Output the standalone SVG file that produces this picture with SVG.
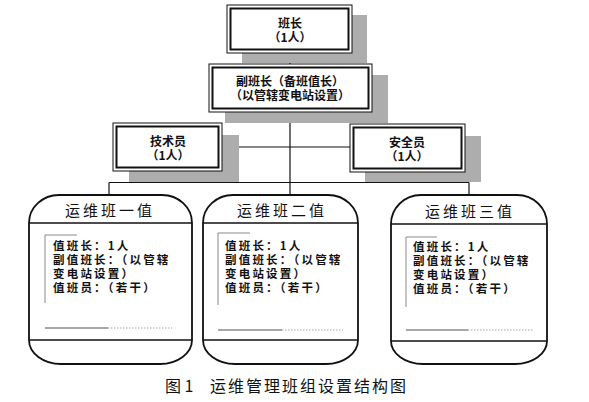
<svg xmlns="http://www.w3.org/2000/svg" width="589" height="402" viewBox="0 0 589 402">
<style>
.shadow{fill:#adadad;stroke:none}
.outer{fill:#fff;stroke:#111;stroke-width:1}
.inner{fill:none;stroke:#111;stroke-width:2}
.line{stroke:#111;stroke-width:1.2;fill:none}
.cap{fill:#fff;stroke:#111;stroke-width:1.8}
.sep{stroke:#111;stroke-width:1.6}
.bracket{stroke:#8a8a8a;stroke-width:1;fill:none}
.solid{stroke:#a8a8a8;stroke-width:2}
.dots{stroke:#c4c4c4;stroke-width:1.5;stroke-dasharray:1.5 1.5}
.bt{font-family:"Noto Sans CJK SC","Noto Sans",sans-serif;font-weight:bold;font-size:12px;fill:#111;text-anchor:middle}
.tt{font-family:"Noto Sans CJK SC","Noto Sans",sans-serif;font-size:15px;fill:#111;text-anchor:middle;letter-spacing:3px}
.body{font-family:"Noto Sans CJK SC","Noto Sans",sans-serif;font-weight:bold;font-size:11.5px;fill:#111;letter-spacing:2.2px}
.cap-t{font-family:"Noto Sans CJK SC","Noto Sans",sans-serif;font-size:16px;fill:#111}
</style>

<g id="connectors">
<line class="line" x1="290" y1="53" x2="290" y2="64"/>
<line class="line" x1="290" y1="112" x2="290" y2="195"/>
<line class="line" x1="222" y1="147" x2="350" y2="147"/>
<line class="line" x1="109" y1="182.5" x2="469" y2="182.5"/>
<line class="line" x1="109" y1="182.5" x2="109" y2="195"/>
<line class="line" x1="469" y1="182.5" x2="469" y2="195"/>
</g>

<g id="node-banzhang">
<rect class="shadow" x="242" y="15" width="125" height="48"/>
<rect class="outer" x="227" y="5" width="125" height="48"/>
<rect class="inner" x="230.5" y="8.5" width="118" height="41"/>
<text class="bt" x="290" y="28">班长<tspan x="290" dy="14">（1人）</tspan></text>
</g>

<g id="node-fubanzhang">
<rect class="shadow" x="225" y="75" width="163" height="48"/>
<rect class="outer" x="209" y="64" width="163" height="48"/>
<rect class="inner" x="212.5" y="67.5" width="156" height="41"/>
<text class="bt" x="290" y="86">副班长（备班值长）<tspan x="290" dy="14">（以管辖变电站设置）</tspan></text>
</g>

<g id="node-jishuyuan">
<rect class="shadow" x="129" y="135" width="110" height="47"/>
<rect class="outer" x="113" y="123" width="109" height="48"/>
<rect class="inner" x="116.5" y="126.5" width="102" height="41"/>
<text class="bt" x="168" y="146">技术员<tspan x="168" dy="14">（1人）</tspan></text>
</g>

<g id="node-anquanyuan">
<rect class="shadow" x="365" y="136" width="116" height="46"/>
<rect class="outer" x="350" y="124" width="115" height="48"/>
<rect class="inner" x="353.5" y="127.5" width="108" height="41"/>
<text class="bt" x="407" y="147">安全员<tspan x="407" dy="14">（1人）</tspan></text>
</g>

<g id="node-yizhi">
<path class="cap" d="M29,223 A30,28 0 0 1 59,195 H162 A30,28 0 0 1 192,223 V340 A32,24 0 0 1 160,364 H61 A32,24 0 0 1 29,340 Z"/>
<line class="sep" x1="29" y1="223" x2="192" y2="223"/>
<line class="sep" x1="29" y1="340" x2="192" y2="340"/>
<text class="tt" x="110" y="216">运维班一值</text>
<polyline class="bracket" points="77,235 45,235 45,303"/>
<text class="body" x="53" y="250">值班长：1人<tspan x="53" dy="14">副值班长：（以管辖</tspan><tspan x="53" dy="14">变电站设置）</tspan><tspan x="53" dy="14">值班员：（若干）</tspan></text>
<line class="solid" x1="45" y1="328" x2="108" y2="328"/>
<line class="dots" x1="108" y1="328" x2="172" y2="328"/>
</g>

<g id="node-erzhi">
<path class="cap" d="M203,223 A30,28 0 0 1 233,195 H328 A30,28 0 0 1 358,223 V340 A32,24 0 0 1 326,364 H235 A32,24 0 0 1 203,340 Z"/>
<line class="sep" x1="203" y1="223" x2="358" y2="223"/>
<line class="sep" x1="203" y1="340" x2="358" y2="340"/>
<text class="tt" x="282" y="216">运维班二值</text>
<polyline class="bracket" points="250,233 218,233 218,305"/>
<text class="body" x="225" y="250">值班长：1人<tspan x="225" dy="14">副值班长：（以管辖</tspan><tspan x="225" dy="14">变电站设置）</tspan><tspan x="225" dy="14">值班员：（若干）</tspan></text>
<line class="solid" x1="218" y1="330" x2="282" y2="330"/>
<line class="dots" x1="282" y1="330" x2="343" y2="330"/>
</g>

<g id="node-sanzhi">
<path class="cap" d="M391,224 A30,29 0 0 1 421,195 H517 A30,29 0 0 1 547,224 V341 A32,23 0 0 1 515,364 H423 A32,23 0 0 1 391,341 Z"/>
<line class="sep" x1="391" y1="224" x2="547" y2="224"/>
<line class="sep" x1="391" y1="341" x2="547" y2="341"/>
<text class="tt" x="470" y="217">运维班三值</text>
<polyline class="bracket" points="437,237 406,237 406,307"/>
<text class="body" x="413" y="251">值班长：1人<tspan x="413" dy="14">副值班长：（以管辖</tspan><tspan x="413" dy="14">变电站设置）</tspan><tspan x="413" dy="14">值班员：（若干）</tspan></text>
<line class="solid" x1="406" y1="330" x2="468" y2="330"/>
<line class="dots" x1="468" y1="330" x2="533" y2="330"/>
</g>

<g id="caption">
<text class="cap-t" x="165" y="392">图 1</text>
<text class="cap-t" x="210" y="392" letter-spacing="2">运维管理班组设置结构图</text>
</g>
</svg>
